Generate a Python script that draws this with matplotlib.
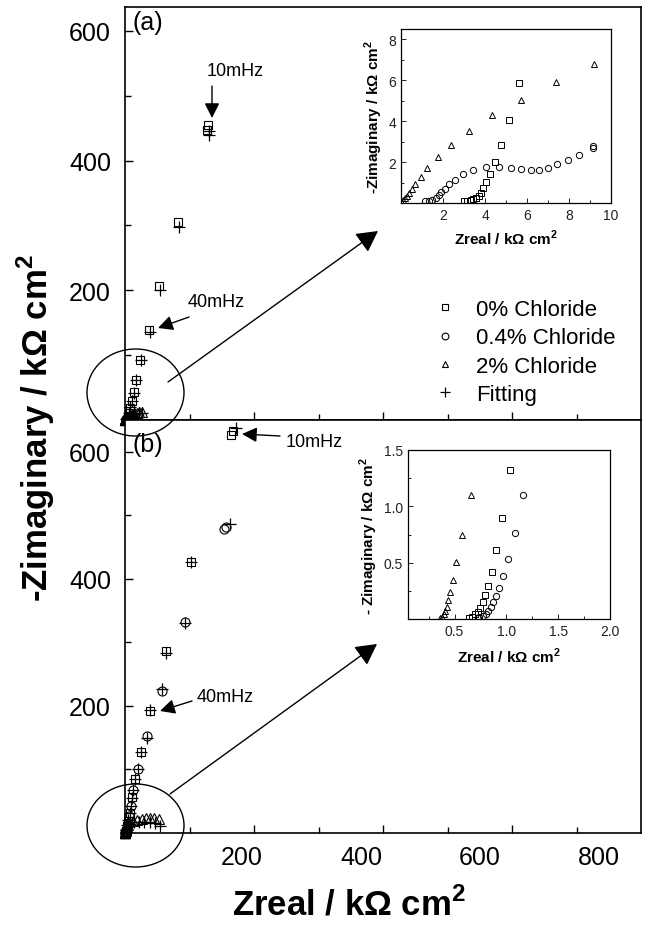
import matplotlib
matplotlib.use('Agg')
import matplotlib.pyplot as plt
from matplotlib.patches import Ellipse, FancyArrowPatch
from matplotlib.ticker import MultipleLocator, FixedLocator

plt.rcParams['font.family'] = ['Liberation Sans', 'DejaVu Sans']
plt.rcParams['mathtext.fontset'] = 'custom'
plt.rcParams['mathtext.rm'] = 'Liberation Sans'
plt.rcParams['mathtext.bf'] = 'Liberation Sans:bold'

# ---------------- data (kOhm cm2) ----------------
series_labels = ['0% Chloride', '0.4% Chloride', '2% Chloride', 'Fitting']

# panel (a)
a_sq_x = [3.00, 3.16, 3.32, 3.44, 3.57, 3.70, 3.81, 3.92, 4.05, 4.23, 4.46, 4.75, 5.12, 5.63,
          6.8, 8.2, 10.3, 13.5, 17, 23.5, 36.7, 53, 82.6, 127.6, 129]
a_sq_y = [0.09, 0.10, 0.14, 0.18, 0.25, 0.35, 0.51, 0.74, 1.03, 1.43, 2.0, 2.84, 4.06, 5.86,
          11, 19, 30, 43, 62, 92, 139, 207, 306, 447, 455]
a_ci_x = [1.14, 1.31, 1.47, 1.66, 1.79, 1.92, 2.08, 2.27, 2.57, 2.95, 3.45, 4.05, 4.67, 5.25,
          5.73, 6.17, 6.59, 7.02, 7.44, 7.93, 8.49, 9.14, 9.16, 10.2, 11.5]
a_ci_y = [0.09, 0.12, 0.17, 0.25, 0.38, 0.54, 0.70, 0.91, 1.11, 1.40, 1.59, 1.76, 1.76, 1.71,
          1.64, 1.59, 1.61, 1.72, 1.89, 2.08, 2.36, 2.70, 2.78, 3.3, 4.2]
a_tr_x = [0.01, 0.11, 0.21, 0.30, 0.40, 0.53, 0.69, 0.93, 1.26, 1.74, 2.40, 3.26, 4.34, 5.72,
          7.36, 9.19, 11, 14, 18, 22, 27]
a_tr_y = [0.09, 0.14, 0.22, 0.35, 0.51, 0.70, 0.95, 1.27, 1.71, 2.23, 2.84, 3.50, 4.30, 5.03,
          5.92, 6.78, 8, 9.5, 11, 12, 12.5]
a_fit_x = [130.7, 130.7, 84, 55, 38, 25.5, 17.8, 14.2, 10.8, 8.3, 6.9, 5.6, 4.5, 3.8,
           26, 21, 16, 12, 9, 6, 3, 1, 9.2, 6, 3]
a_fit_y = [446, 439, 297, 200, 136, 93, 62, 42, 30, 20, 11, 6, 2.5, 0.8,
           11, 10.5, 9.5, 8, 6.5, 5, 3, 1.2, 2.7, 1.6, 1.4]

# panel (b)
b_sq_x = [0.64, 0.67, 0.70, 0.722, 0.747, 0.772, 0.796, 0.824, 0.858, 0.901, 0.957, 1.031,
          1.8, 2.6, 3.6, 5, 7, 10.4, 15.5, 25, 38.8, 63, 102, 164, 167]
b_sq_y = [0.01, 0.02, 0.04, 0.065, 0.10, 0.147, 0.212, 0.294, 0.42, 0.609, 0.894, 1.32,
          3, 6, 11, 19, 32, 56, 85, 128, 192.6, 286, 426, 627, 633]
b_ci_x = [0.74, 0.77, 0.80, 0.827, 0.849, 0.87, 0.895, 0.926, 0.966, 1.018, 1.08, 1.164,
          1.6, 2.3, 3.2, 4.5, 6.2, 8.8, 13, 19.5, 33.6, 57, 93.5, 154, 156]
b_ci_y = [0.015, 0.027, 0.044, 0.07, 0.103, 0.147, 0.203, 0.276, 0.379, 0.532, 0.762, 1.097,
          2, 4, 8, 15, 26, 43, 68, 101, 152, 224, 332.6, 478, 482]
b_tr_x = [0.36, 0.38, 0.398, 0.41, 0.423, 0.438, 0.457, 0.488, 0.518, 0.574, 0.66,
          1.2, 2, 3, 4, 5, 13, 19, 26, 32.5, 39, 45, 52]
b_tr_y = [0.01, 0.02, 0.04, 0.07, 0.109, 0.168, 0.241, 0.347, 0.506, 0.747, 1.10,
          2.5, 5, 9, 13, 17, 19, 21, 22, 23, 24, 24, 22]
b_fit_x = [172, 163, 102, 93, 63, 57, 39, 34, 25, 20, 16, 13, 10.5, 9, 7, 5, 3.5, 2,
           54, 46, 38, 30, 22, 14, 8]
b_fit_y = [637, 487, 426, 331, 283, 226, 194, 150, 128, 100, 85, 67, 55, 43, 32, 20, 12, 5,
           11.5, 15, 17, 18, 18, 17, 14]

main_yticks = [200, 400, 600]
bottom_xlabels = [200, 400, 600, 800]
inset_a_xticks = [2, 4, 6, 8, 10]
inset_a_yticks = [2, 4, 6, 8]
inset_b_xticks = [0.5, 1.0, 1.5, 2.0]
inset_b_yticks = [0.5, 1.0, 1.5]

# ---------------- layout helpers (figure pixels, y from top) ----------------
W, H = 666, 945
fig = plt.figure(figsize=(W / 100, H / 100), dpi=100)


def fx(px):
    return px / W


def fy(py):
    return 1 - py / H


def rect(l, t, r, b):
    return [fx(l), fy(b), fx(r) - fx(l), fy(t) - fy(b)]


ax_a = fig.add_axes(rect(125, 8, 641, 421))
ax_b = fig.add_axes(rect(125, 421, 641, 834))
in_a = fig.add_axes(rect(401, 30, 611, 204))
in_b = fig.add_axes(rect(408, 451, 610, 620))

mk_main = dict(linestyle='none', mfc='none', mec='black', mew=0.8)


def draw_main(ax, sx, sy, cx, cy, tx, ty, fxs, fys):
    h1, = ax.plot(sx, sy, marker='s', ms=6, label=series_labels[0], clip_on=False, **mk_main)
    h2, = ax.plot(cx, cy, marker='o', ms=6.5, label=series_labels[1], clip_on=False, **mk_main)
    h3, = ax.plot(tx, ty, marker='^', ms=6.5, label=series_labels[2], clip_on=False, **mk_main)
    h4, = ax.plot(fxs, fys, marker='+', ms=9, label=series_labels[3], clip_on=False,
                  linestyle='none', color='black', mew=0.9)
    return [h1, h2, h3, h4]


handles = draw_main(ax_a, a_sq_x, a_sq_y, a_ci_x, a_ci_y, a_tr_x, a_tr_y, a_fit_x, a_fit_y)
draw_main(ax_b, b_sq_x, b_sq_y, b_ci_x, b_ci_y, b_tr_x, b_tr_y, b_fit_x, b_fit_y)

for ax, ytop in ((ax_a, 637), (ax_b, 650)):
    ax.set_xlim(0, 800)
    ax.set_ylim(0, ytop)
    ax.xaxis.set_major_locator(FixedLocator([200, 400, 600]))
    ax.xaxis.set_minor_locator(FixedLocator([100, 300, 500, 700]))
    ax.yaxis.set_major_locator(FixedLocator(main_yticks))
    ax.yaxis.set_minor_locator(FixedLocator([100, 300, 500]))
    ax.tick_params(which='both', direction='in', top=False, right=False, width=1.0)
    ax.tick_params(which='major', length=6)
    ax.tick_params(which='minor', length=4)
    ax.tick_params(axis='y', labelsize=18, pad=10)
    ax.tick_params(axis='x', labelbottom=False)
    for s in ax.spines.values():
        s.set_linewidth(1.2)

# bottom tick labels (as printed in the original, on their own scale)
sec = ax_b.secondary_xaxis('bottom', functions=(lambda x: (x + 3) / 0.9225,
                                                lambda v: 0.9225 * v - 3))
sec.set_xticks(bottom_xlabels)
sec.tick_params(length=0, labelsize=18, pad=9)
sec.spines['bottom'].set_visible(False)

# insets
mk_in = dict(linestyle='none', mfc='none', mec='black', mew=0.7)
for ax, sx, sy, cx, cy, tx, ty in ((in_a, a_sq_x, a_sq_y, a_ci_x, a_ci_y, a_tr_x, a_tr_y),
                                   (in_b, b_sq_x, b_sq_y, b_ci_x, b_ci_y, b_tr_x, b_tr_y)):
    ax.plot(sx, sy, marker='s', ms=4, **mk_in)
    ax.plot(cx, cy, marker='o', ms=4.5, **mk_in)
    ax.plot(tx, ty, marker='^', ms=5, **mk_in)
    ax.tick_params(which='both', direction='in', top=False, right=False, labelsize=10,
                   width=0.7, colors='#222222')
    ax.tick_params(which='major', length=3.5)
    ax.tick_params(which='minor', length=2)
    for s in ax.spines.values():
        s.set_linewidth(0.9)

in_a.set_xlim(0, 10)
in_a.set_ylim(0, 8.5)
in_a.xaxis.set_major_locator(FixedLocator(inset_a_xticks))
in_a.yaxis.set_major_locator(FixedLocator(inset_a_yticks))
in_a.xaxis.set_minor_locator(MultipleLocator(1))
in_a.yaxis.set_minor_locator(MultipleLocator(1))
in_a.set_xlabel('Zreal / kΩ cm$^\\mathbf{2}$', fontsize=11, fontweight='bold', labelpad=4)
in_a.set_ylabel('-Zimaginary / kΩ cm$^\\mathbf{2}$', fontsize=11, fontweight='bold', labelpad=2)

in_b.set_xlim(0.05, 2.0)
in_b.set_ylim(0, 1.5)
in_b.xaxis.set_major_locator(FixedLocator(inset_b_xticks))
in_b.yaxis.set_major_locator(FixedLocator(inset_b_yticks))
in_b.xaxis.set_minor_locator(MultipleLocator(0.25))
in_b.yaxis.set_minor_locator(MultipleLocator(0.25))
in_b.set_xlabel('Zreal / kΩ cm$^\\mathbf{2}$', fontsize=11, fontweight='bold', labelpad=6)
in_b.set_ylabel('- Zimaginary / kΩ cm$^\\mathbf{2}$', fontsize=11, fontweight='bold', labelpad=3)

# legend
leg = ax_a.legend(handles=handles, loc='upper left',
                  bbox_to_anchor=(fx(434), fy(300)), bbox_transform=fig.transFigure,
                  frameon=False, fontsize=16, handlelength=1.0, handletextpad=0.9,
                  labelspacing=0.33, borderpad=0, borderaxespad=0, markerscale=0.75)

# big axis labels
fig.text(fx(36), fy(428), '-Zimaginary / kΩ cm$^\\mathbf{2}$', rotation=90,
         ha='center', va='center', fontsize=25, fontweight='bold')
fig.text(fx(349), fy(905), 'Zreal / kΩ cm$^\\mathbf{2}$', ha='center', va='center',
         fontsize=25, fontweight='bold')

# panel letters and frequency notes
fig.text(fx(132), fy(23), '(a)', ha='left', va='center', fontsize=18)
fig.text(fx(132), fy(445), '(b)', ha='left', va='center', fontsize=18)
fig.text(fx(235), fy(72), '10mHz', ha='center', va='center', fontsize=13)
fig.text(fx(216), fy(303), '40mHz', ha='center', va='center', fontsize=13)
fig.text(fx(286), fy(443), '10mHz', ha='left', va='center', fontsize=13)
fig.text(fx(225), fy(698), '40mHz', ha='center', va='center', fontsize=13)


def arrow(p0, p1, hw=4.5, hl=9, lw=1.0):
    a = FancyArrowPatch((fx(p0[0]), fy(p0[1])), (fx(p1[0]), fy(p1[1])),
                        transform=fig.transFigure,
                        arrowstyle='-|>,head_width=%g,head_length=%g' % (hw / 2.0, hl / 2.0),
                        mutation_scale=2, lw=lw, color='black', shrinkA=0, shrinkB=0,
                        zorder=10)
    fig.add_artist(a)


arrow((212, 87), (212, 119))
arrow((189, 318), (158, 329))
arrow((168, 383), (378, 232), hw=7, hl=13)
arrow((280, 437), (242, 435))
arrow((192, 702), (160, 712))
arrow((170, 795), (377, 645), hw=7, hl=13)

for c, h in (((135.5, 393.5), 87), ((135.5, 826.5), 83)):
    e = Ellipse((fx(c[0]), fy(c[1])), fx(97), h / H, transform=fig.transFigure,
                fill=False, lw=1.0, edgecolor='black', zorder=10)
    fig.add_artist(e)

fig.savefig('out.png', dpi=100)
